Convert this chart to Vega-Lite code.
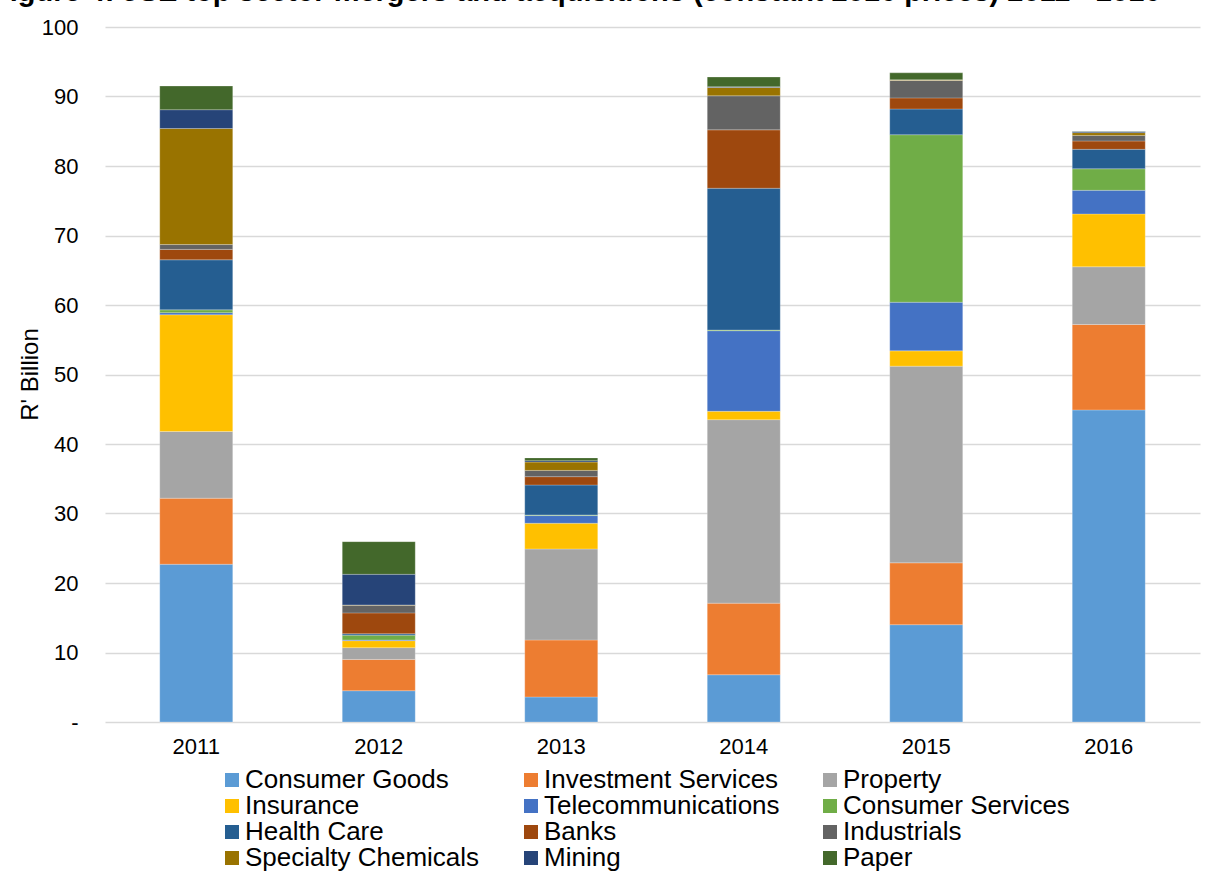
{
  "$schema": "https://vega.github.io/schema/vega-lite/v6.json",
  "width": 1095,
  "height": 695,
  "autosize": {"type": "none"},
  "padding": {"left": 105, "top": 27, "right": 12, "bottom": 159},
  "background": "white",
  "title": {
    "text": "Figure 4: JSE top sector mergers and acquisitions (constant 2016 prices) 2011 - 2016",
    "anchor": "start",
    "frame": "group",
    "font": "Liberation Sans",
    "fontSize": 29,
    "fontWeight": "bold",
    "color": "#000000",
    "offset": 0,
    "dx": -113,
    "dy": 14,
    "baseline": "alphabetic"
  },
  "config": {
    "view": {"stroke": null},
    "font": "Liberation Sans",
    "axis": {"domain": false, "ticks": false, "labelColor": "#000000", "labelFont": "Liberation Sans"}
  },
  "data": {
    "values": [
      {"year": "2011", "sector": "Consumer Goods", "value": 22.7},
      {"year": "2011", "sector": "Investment Services", "value": 9.5},
      {"year": "2011", "sector": "Property", "value": 9.6},
      {"year": "2011", "sector": "Insurance", "value": 16.8},
      {"year": "2011", "sector": "Telecommunications", "value": 0.3},
      {"year": "2011", "sector": "Consumer Services", "value": 0.4},
      {"year": "2011", "sector": "Health Care", "value": 7.2},
      {"year": "2011", "sector": "Banks", "value": 1.5},
      {"year": "2011", "sector": "Industrials", "value": 0.7},
      {"year": "2011", "sector": "Specialty Chemicals", "value": 16.7},
      {"year": "2011", "sector": "Mining", "value": 2.7},
      {"year": "2011", "sector": "Paper", "value": 3.4},
      {"year": "2012", "sector": "Consumer Goods", "value": 4.5},
      {"year": "2012", "sector": "Investment Services", "value": 4.5},
      {"year": "2012", "sector": "Property", "value": 1.7},
      {"year": "2012", "sector": "Insurance", "value": 1.0},
      {"year": "2012", "sector": "Telecommunications", "value": 0.1},
      {"year": "2012", "sector": "Consumer Services", "value": 0.7},
      {"year": "2012", "sector": "Health Care", "value": 0.2},
      {"year": "2012", "sector": "Banks", "value": 3.0},
      {"year": "2012", "sector": "Industrials", "value": 1.1},
      {"year": "2012", "sector": "Specialty Chemicals", "value": 0.05},
      {"year": "2012", "sector": "Mining", "value": 4.4},
      {"year": "2012", "sector": "Paper", "value": 4.7},
      {"year": "2013", "sector": "Consumer Goods", "value": 3.6},
      {"year": "2013", "sector": "Investment Services", "value": 8.2},
      {"year": "2013", "sector": "Property", "value": 13.1},
      {"year": "2013", "sector": "Insurance", "value": 3.7},
      {"year": "2013", "sector": "Telecommunications", "value": 1.1},
      {"year": "2013", "sector": "Consumer Services", "value": 0.1},
      {"year": "2013", "sector": "Health Care", "value": 4.3},
      {"year": "2013", "sector": "Banks", "value": 1.2},
      {"year": "2013", "sector": "Industrials", "value": 0.9},
      {"year": "2013", "sector": "Specialty Chemicals", "value": 1.2},
      {"year": "2013", "sector": "Mining", "value": 0.2},
      {"year": "2013", "sector": "Paper", "value": 0.4},
      {"year": "2014", "sector": "Consumer Goods", "value": 6.8},
      {"year": "2014", "sector": "Investment Services", "value": 10.3},
      {"year": "2014", "sector": "Property", "value": 26.4},
      {"year": "2014", "sector": "Insurance", "value": 1.2},
      {"year": "2014", "sector": "Telecommunications", "value": 11.6},
      {"year": "2014", "sector": "Consumer Services", "value": 0.1},
      {"year": "2014", "sector": "Health Care", "value": 20.4},
      {"year": "2014", "sector": "Banks", "value": 8.4},
      {"year": "2014", "sector": "Industrials", "value": 4.9},
      {"year": "2014", "sector": "Specialty Chemicals", "value": 1.2},
      {"year": "2014", "sector": "Mining", "value": 0.1},
      {"year": "2014", "sector": "Paper", "value": 1.4},
      {"year": "2015", "sector": "Consumer Goods", "value": 14.0},
      {"year": "2015", "sector": "Investment Services", "value": 8.9},
      {"year": "2015", "sector": "Property", "value": 28.3},
      {"year": "2015", "sector": "Insurance", "value": 2.2},
      {"year": "2015", "sector": "Telecommunications", "value": 7.0},
      {"year": "2015", "sector": "Consumer Services", "value": 24.1},
      {"year": "2015", "sector": "Health Care", "value": 3.7},
      {"year": "2015", "sector": "Banks", "value": 1.6},
      {"year": "2015", "sector": "Industrials", "value": 2.5},
      {"year": "2015", "sector": "Specialty Chemicals", "value": 0.1},
      {"year": "2015", "sector": "Mining", "value": 0.0},
      {"year": "2015", "sector": "Paper", "value": 1.0},
      {"year": "2016", "sector": "Consumer Goods", "value": 44.9},
      {"year": "2016", "sector": "Investment Services", "value": 12.3},
      {"year": "2016", "sector": "Property", "value": 8.3},
      {"year": "2016", "sector": "Insurance", "value": 7.6},
      {"year": "2016", "sector": "Telecommunications", "value": 3.4},
      {"year": "2016", "sector": "Consumer Services", "value": 3.1},
      {"year": "2016", "sector": "Health Care", "value": 2.8},
      {"year": "2016", "sector": "Banks", "value": 1.2},
      {"year": "2016", "sector": "Industrials", "value": 0.8},
      {"year": "2016", "sector": "Specialty Chemicals", "value": 0.4},
      {"year": "2016", "sector": "Mining", "value": 0.15},
      {"year": "2016", "sector": "Paper", "value": 0.05}
    ]
  },
  "transform": [
    {"calculate": "indexof(['Consumer Goods', 'Investment Services', 'Property', 'Insurance', 'Telecommunications', 'Consumer Services', 'Health Care', 'Banks', 'Industrials', 'Specialty Chemicals', 'Mining', 'Paper'], datum.sector)", "as": "stackOrder"}
  ],
  "mark": {"type": "bar", "stroke": "#ffffff", "strokeWidth": 0.4, "strokeOpacity": 0.6},
  "encoding": {
    "x": {
      "field": "year",
      "type": "nominal",
      "title": null,
      "scale": {"paddingInner": 0.6, "paddingOuter": 0.3},
      "axis": {"labelAngle": 0, "labelFontSize": 22, "labelPadding": 14, "grid": false}
    },
    "y": {
      "field": "value",
      "type": "quantitative",
      "stack": "zero",
      "title": "R' Billion",
      "scale": {"domain": [0, 100], "nice": false},
      "axis": {
        "values": [0, 10, 20, 30, 40, 50, 60, 70, 80, 90, 100],
        "labelExpr": "datum.value == 0 ? '-' : datum.label",
        "labelFontSize": 22,
        "labelPadding": 27,
        "grid": true,
        "gridColor": "#D9D9D9",
        "gridWidth": 1.5,
        "titleFontSize": 24,
        "titleFontWeight": "normal",
        "titleColor": "#000000",
        "titleAngle": -90,
        "titleBaseline": "middle",
        "titleAlign": "center",
        "titleX": -75,
        "titleY": 347
      }
    },
    "order": {"field": "stackOrder", "type": "quantitative", "sort": "ascending"},
    "color": {
      "field": "sector",
      "type": "nominal",
      "sort": ["Consumer Goods", "Investment Services", "Property", "Insurance", "Telecommunications", "Consumer Services", "Health Care", "Banks", "Industrials", "Specialty Chemicals", "Mining", "Paper"],
      "scale": {
        "domain": ["Consumer Goods", "Investment Services", "Property", "Insurance", "Telecommunications", "Consumer Services", "Health Care", "Banks", "Industrials", "Specialty Chemicals", "Mining", "Paper"],
        "range": ["#5B9BD5", "#ED7D31", "#A5A5A5", "#FFC000", "#4472C4", "#70AD47", "#255E91", "#9E480E", "#636363", "#997300", "#264478", "#43682B"]
      },
      "legend": {
        "title": null,
        "orient": "none",
        "legendX": 114,
        "legendY": 740,
        "direction": "horizontal",
        "columns": 3,
        "gridAlign": "all",
        "columnPadding": 37,
        "rowPadding": 0,
        "padding": 0,
        "symbolType": "square",
        "symbolSize": 196,
        "symbolStrokeWidth": 0,
        "symbolOpacity": 1,
        "labelFontSize": 26,
        "labelColor": "#000000",
        "labelOffset": 0,
        "labelLimit": 400
      }
    }
  }
}
